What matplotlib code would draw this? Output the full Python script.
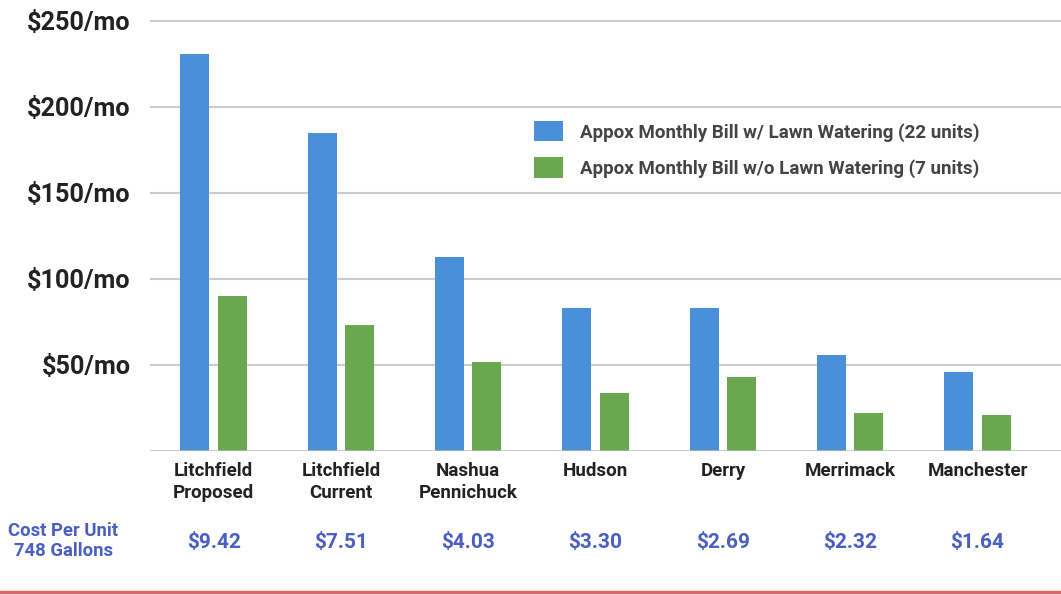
import numpy as np
import matplotlib.pyplot as plt
from matplotlib.transforms import blended_transform_factory
from matplotlib.lines import Line2D

plt.rcParams['font.family'] = ['Roboto', 'DejaVu Sans']
plt.rcParams['font.weight'] = 'bold'

# towns and approximate monthly bills
towns = ["Litchfield\nProposed", "Litchfield\nCurrent", "Nashua\nPennichuck",
         "Hudson", "Derry", "Merrimack", "Manchester"]
with_lawn = [231, 185, 113, 83, 83, 56, 46]
without_lawn = [90, 73, 52, 34, 43, 22, 21]
cost_per_unit = ["$9.42", "$7.51", "$4.03", "$3.30", "$2.69", "$2.32", "$1.64"]
y_ticks = [50, 100, 150, 200, 250]
y_labels = ["$50/mo", "$100/mo", "$150/mo", "$200/mo", "$250/mo"]

blue = "#4A90D9"
green = "#6AA84F"
cost_color = "#4A5FC1"

fig = plt.figure(figsize=(10.61, 5.95), dpi=100)
ax = fig.add_axes([150 / 1061, (595 - 451) / 595, 911 / 1061, 451 / 595])

x = np.arange(len(towns))
w = 0.228
off = 0.147
ax.bar(x - off, with_lawn, w, color=blue, zorder=3,
       label="Appox Monthly Bill w/ Lawn Watering (22 units)")
ax.bar(x + off, without_lawn, w, color=green, zorder=3,
       label="Appox Monthly Bill w/o Lawn Watering (7 units)")

ax.set_xlim(-0.5, -0.5 + 911 / 127.3)
ax.set_ylim(0, 262.2)
ax.set_yticks(y_ticks)
ax.set_yticklabels(y_labels, fontsize=18.2, color="#222222")
ax.set_xticks(x)
ax.set_xticklabels(towns, fontsize=13.5, color="#222222", linespacing=1.3)
ax.tick_params(axis='y', length=0, pad=14)
ax.tick_params(axis='x', length=0, pad=8)
for v in y_ticks:
    ax.axhline(v, color="#cccccc", lw=1.5, zorder=1)
ax.axhline(0, color="#bbbbbb", lw=1.8, zorder=4)
for s in ax.spines.values():
    s.set_visible(False)

# cost per unit row under the categories
trans = blended_transform_factory(ax.transData, fig.transFigure)
for xi, c in zip(x, cost_per_unit):
    ax.text(xi, 1 - 543 / 595, c, transform=trans, ha='center', va='center',
            fontsize=15, color=cost_color)
fig.text(63 / 1061, 1 - 541 / 595, "Cost Per Unit\n748 Gallons", ha='center',
         va='center', fontsize=13.3, color=cost_color, linespacing=1.2)

leg = ax.legend(loc='upper left', bbox_to_anchor=(367 / 911, 1 - 104 / 451),
                frameon=False, fontsize=13.5, handlelength=1.55, handleheight=1.3,
                labelspacing=0.85, handletextpad=0.9)
for t in leg.get_texts():
    t.set_color("#444444")

# red rule along the bottom
fig.add_artist(Line2D([0, 1], [1 - 592 / 595] * 2, color="#e06666", lw=2.5,
                      transform=fig.transFigure))

fig.savefig("out.png", dpi=100)
